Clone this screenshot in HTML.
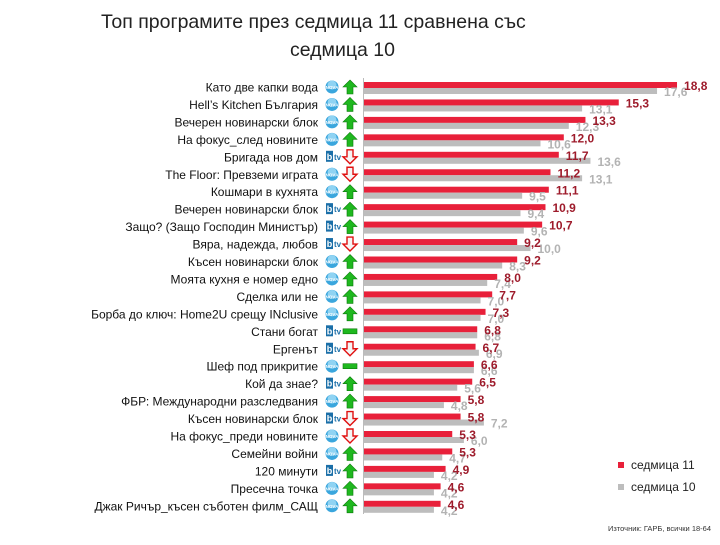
<!DOCTYPE html>
<html><head><meta charset="utf-8"><style>
body{margin:0;background:#fff;}
text{font-family:"Liberation Sans",sans-serif;}
</style></head><body>
<svg id="s" width="720" height="540" xmlns="http://www.w3.org/2000/svg">
<rect width="720" height="540" fill="#fff"/>
<text x="101" y="28" font-size="19.5" fill="#222">Топ програмите през седмица 11 сравнена със</text>
<text x="290" y="56" font-size="19.5" fill="#222">седмица 10</text>
<line x1="363.5" y1="78" x2="363.5" y2="514" stroke="#bbb"/>
<g id="rows"></g>
<rect x="618" y="462" width="6" height="6" fill="#e8203a"/>
<text x="631" y="469" font-size="12" fill="#222">седмица 11</text>
<rect x="618" y="484" width="6" height="6" fill="#bdbdbd"/>
<text x="631" y="491" font-size="12" fill="#222">седмица 10</text>
<text x="711" y="531" font-size="7.5" text-anchor="end" fill="#333">Източник: ГАРБ, всички 18-64</text>
</svg>
<script>
var d=[["Като две капки вода","n","u",18.8,17.6],["Hell’s Kitchen България","n","u",15.3,13.1],["Вечерен новинарски блок","n","u",13.3,12.3],["На фокус_след новините","n","u",12.0,10.6],["Бригада нов дом","b","d",11.7,13.6],["The Floor: Превземи играта","n","d",11.2,13.1],["Кошмари в кухнята","n","u",11.1,9.5],["Вечерен новинарски блок","b","u",10.9,9.4],["Защо? (Защо Господин Министър)","b","u",10.7,9.6],["Вяра, надежда, любов","b","d",9.2,10.0],["Късен новинарски блок","n","u",9.2,8.3],["Моята кухня е номер едно","n","u",8.0,7.4],["Сделка или не","n","u",7.7,7.0],["Борба до ключ: Home2U срещу INclusive","n","u",7.3,7.0],["Стани богат","b","e",6.8,6.8],["Ергенът","b","d",6.7,6.9],["Шеф под прикритие","n","e",6.6,6.6],["Кой да знае?","b","u",6.5,5.6],["ФБР: Международни разследвания","n","u",5.8,4.8],["Късен новинарски блок","b","d",5.8,7.2],["На фокус_преди новините","n","d",5.3,6.0],["Семейни войни","n","u",5.3,4.7],["120 минути","b","u",4.9,4.2],["Пресечна точка","n","u",4.6,4.2],["Джак Ричър_късен съботен филм_САЩ","n","u",4.6,4.2]];
var h="",k=16.65,x0=364;
function f(v){return v.toFixed(1).replace(".",",");}
d.forEach(function(r,i){
var t=82+17.45*i,c=t+5;
h+='<text x="318" y="'+(c+4.5)+'" font-size="12" text-anchor="end" fill="#111">'+r[0]+'</text>';
if(r[1]=="n"){h+='<circle cx="332" cy="'+c+'" r="6.5" fill="#3aa6dd"/><circle cx="332" cy="'+(c-2)+'" r="4.5" fill="#8fd3f3"/><text x="332" y="'+(c+2)+'" font-size="4.5" font-weight="bold" text-anchor="middle" fill="#fff">NOVA</text>';}
else{h+='<rect x="326" y="'+(c-6)+'" width="7" height="11" fill="#1b6fa8"/><text x="329.5" y="'+(c+3)+'" font-size="9" font-weight="bold" text-anchor="middle" fill="#fff">b</text><text x="334" y="'+(c+3)+'" font-size="8" font-weight="bold" fill="#1b6fa8">tv</text>';}
var ax=350;
if(r[2]=="u")h+='<polygon points="'+ax+','+(c-7)+' '+(ax+7)+','+c+' '+(ax+3)+','+c+' '+(ax+3)+','+(c+7)+' '+(ax-3)+','+(c+7)+' '+(ax-3)+','+c+' '+(ax-7)+','+c+'" fill="#1fb81f" stroke="#0a7a0a" stroke-width="0.6"/>';
else if(r[2]=="d")h+='<polygon points="'+ax+','+(c+7)+' '+(ax+7)+','+c+' '+(ax+3)+','+c+' '+(ax+3)+','+(c-7)+' '+(ax-3)+','+(c-7)+' '+(ax-3)+','+c+' '+(ax-7)+','+c+'" fill="#f5f5f5" stroke="#e01010" stroke-width="1.4"/>';
else h+='<rect x="'+(ax-7)+'" y="'+(c-2.5)+'" width="14" height="5" fill="#1fb81f" stroke="#0a7a0a" stroke-width="0.6"/>';
var w1=r[3]*k,w2=r[4]*k;
h+='<rect x="'+x0+'" y="'+t+'" width="'+w1+'" height="6" fill="#e8203a"/>';
h+='<rect x="'+x0+'" y="'+(t+6)+'" width="'+w2+'" height="6" fill="#bdbdbd"/>';
h+='<text x="'+(x0+w2+7)+'" y="'+(t+14)+'" font-size="12" font-weight="bold" fill="#b3b3b3">'+f(r[4])+'</text>';
h+='<text x="'+(x0+w1+7)+'" y="'+(t+8)+'" font-size="12" font-weight="bold" fill="#9e1b2b">'+f(r[3])+'</text>';
});
document.getElementById("rows").innerHTML=h;
</script>
</body></html>
